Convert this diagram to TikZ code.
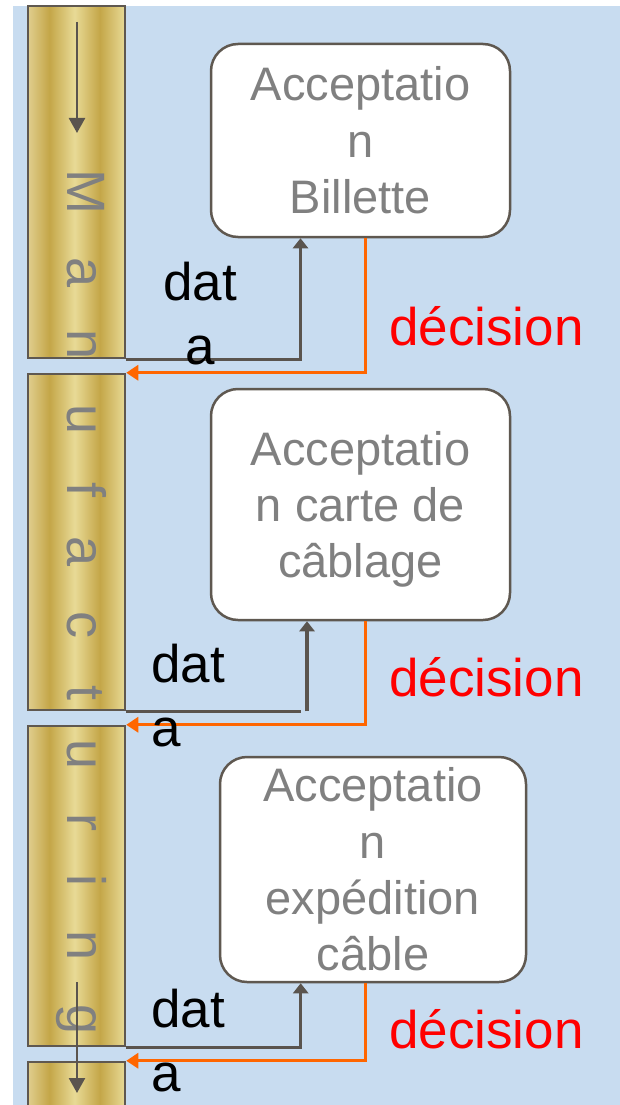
\documentclass[tikz,border=0pt]{standalone}
\usepackage{fontspec}
\setmainfont{Liberation Sans}
\usetikzlibrary{arrows.meta}
\definecolor{bgblue}{RGB}{200,220,240}
\definecolor{goldL}{RGB}{232,218,150}
\definecolor{goldD}{RGB}{196,166,72}
\definecolor{goldE}{RGB}{224,206,142}
\definecolor{edgegray}{RGB}{95,88,80}
\definecolor{linegray}{RGB}{90,84,78}
\definecolor{txtgray}{RGB}{128,128,128}
\definecolor{orangeline}{RGB}{255,102,0}
\pgfdeclarehorizontalshading{goldstripes}{100bp}{color(0bp)=(goldE); color(25bp)=(goldE); color(36bp)=(goldD); color(49bp)=(goldL); color(62bp)=(goldD); color(75bp)=(goldL); color(100bp)=(goldL)}
\begin{document}
\begin{tikzpicture}[x=1pt,y=-1pt,
  bar/.style={draw=edgegray, line width=2.5pt, shading=goldstripes, minimum width=97pt, inner sep=0pt},
  letter/.style={rotate=-90, anchor=base, inner sep=0pt, text=txtgray, font=\fontsize{54}{64}\selectfont},
  procbox/.style={draw=edgegray, fill=white, line width=2.5pt, rounded corners=27pt, text=txtgray, align=center, inner sep=0pt, font=\fontsize{47}{56.4}\selectfont},
  dataline/.style={draw=linegray, line width=3.2pt, -{Triangle[length=10pt,width=15pt]}},
  datastub/.style={draw=linegray, line width=3.2pt},
  decline/.style={draw=orangeline, line width=3pt, -{Triangle[length=12pt,width=15pt]}},
  flowarrow/.style={draw=linegray, line width=2.5pt, -{Triangle[length=15pt,width=16pt]}},
  datalabel/.style={inner sep=0pt, text=black, font=\fontsize{53}{64}\selectfont},
  declabel/.style={inner sep=0pt, text=red, anchor=base west, font=\fontsize{53}{64}\selectfont}]
\useasboundingbox (0,0) rectangle (620,1105);
\clip (0,0) rectangle (620,1105);
\fill[bgblue] (13,6) rectangle (620,1105);
% swimlane bars
\node[bar, minimum height=352pt] (bar1) at (76.5,182) {};
\node[bar, minimum height=336pt] (bar2) at (76.5,542) {};
\node[bar, minimum height=320pt] (bar3) at (76.5,886) {};
\node[bar, minimum height=68pt] (bar4) at (76.5,1096) {};
% vertical letters
\foreach \ch/\yy [count=\i] in {M/192, a/273, n/345, u/420, f/490, a/552, c/625, t/693, u/755, r/822, i/880, n/946, g/1020}
  \node[letter] (L\i) at (67,\yy) {\ch};
% flow arrows in the bar
\coordinate (ta0) at (77,22);
\coordinate (ta1) at (77,133);
\coordinate (ba0) at (77,982);
\coordinate (ba1) at (77,1093);
\draw[flowarrow] (ta0) -- (ta1);
\draw[flowarrow] (ba0) -- (ba1);
% process boxes
\node[procbox, minimum width=299pt, minimum height=193pt] (box1) at (360.5,140.5) {Acceptatio\\n\\Billette};
\node[procbox, minimum width=299pt, minimum height=231pt] (box2) at (360.5,504.5) {Acceptatio\\n carte de\\\raisebox{0pt}[\height][0pt]{câblage}};
\node[procbox, minimum width=306pt, minimum height=225pt] (box3) at (373,869.5) {Acceptatio\\n\\expédition\\câble};
% connectors
\draw[dataline] (bar1.south east) -| ([xshift=-60pt]box1.south);
\draw[decline] ([xshift=4.5pt]box1.south) |- (bar2.north east);
\draw[datastub] (bar2.south east) -- ++(175,0) coordinate (d2end);
\draw[dataline] ([xshift=-53.5pt]box2.south |- bar2.south) -- ([xshift=-53.5pt]box2.south);
\draw[decline] ([xshift=4.5pt]box2.south) |- (bar3.north east);
\draw[dataline] (bar3.south east) -| ([xshift=-72.3pt]box3.south);
\draw[decline] ([xshift=-8pt]box3.south) |- (bar4.north east);
% labels
\node[datalabel, anchor=north, align=center] (lab1) at (200,261.4) {dat\\a};
\node[datalabel, anchor=north west, align=left] (lab2) at (151,643.4) {dat\\a};
\node[datalabel, anchor=north west, align=left] (lab3) at (151,988.4) {dat\\a};
\node[declabel] (dec1) at (389,345.7) {décision};
\node[declabel] (dec2) at (389,696.7) {décision};
\node[declabel] (dec3) at (389,1048) {décision};
\end{tikzpicture}
\end{document}
